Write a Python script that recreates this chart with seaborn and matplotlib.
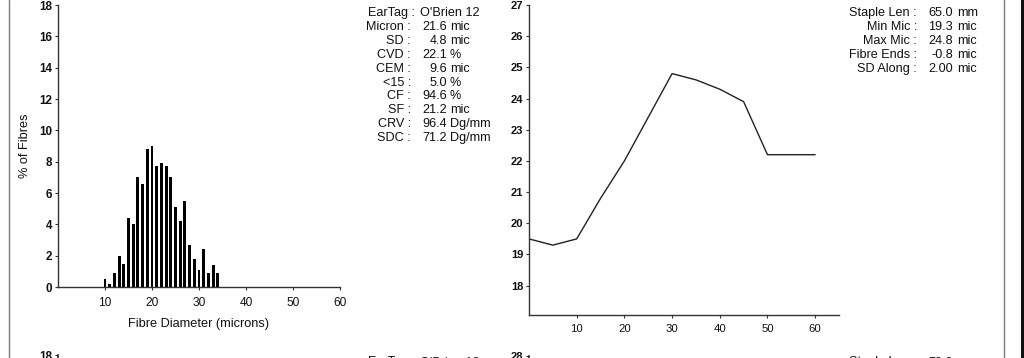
import numpy as np
import pandas as pd
import matplotlib
matplotlib.use("Agg")
import matplotlib.pyplot as plt
from matplotlib.lines import Line2D
from matplotlib.patches import Rectangle
import seaborn as sns

# ---------------- data ----------------
diameters = list(range(10, 35))
pct_fibres = [0.5, 0.2, 0.9, 2.0, 1.5, 4.4, 4.0, 7.0, 6.6, 8.8, 9.0, 7.7, 7.9,
              7.7, 7.0, 5.1, 4.2, 5.5, 2.7, 1.8, 1.1, 2.4, 0.9, 1.4, 0.9]

staple_pos = [0, 5, 10, 15, 20, 25, 30, 35, 40, 45, 50, 55, 60]
micron_along = [19.5, 19.3, 19.5, 20.8, 22.0, 23.4, 24.8, 24.6, 24.3, 23.9, 22.2, 22.2, 22.2]

hist_xticks = [10, 20, 30, 40, 50, 60]
hist_yticks = [0, 2, 4, 6, 8, 10, 12, 14, 16, 18]
prof_xticks = [10, 20, 30, 40, 50, 60]
prof_yticks = [18, 19, 20, 21, 22, 23, 24, 25, 26, 27]
next_prof_yticks = [28]
next_hist_yticks = [18]

ear_tag = "O'Brien 12"
stat_labels = ["Micron :", "SD :", "CVD :", "CEM :", "<15 :", "CF :", "SF :", "CRV :", "SDC :"]
stat_values = ["21.6", "4.8", "22.1", "9.6", "5.0", "94.6", "21.2", "96.4", "71.2"]
stat_units = ["mic", "mic", "%", "mic", "%", "%", "mic", "Dg/mm", "Dg/mm"]

len_labels = ["Staple Len :", "Min Mic :", "Max Mic :", "Fibre Ends :", "SD Along :"]
len_values = ["65.0", "19.3", "24.8", "-0.8", "2.00"]
len_units = ["mm", "mic", "mic", "mic", "mic"]

next_ear_tag = "O'Brien 13"
next_staple = "70.0"

# ---------------- style ----------------
sns.set_theme(style="ticks")
plt.rcParams['font.family'] = ['Liberation Sans', 'DejaVu Sans']
plt.rcParams['axes.edgecolor'] = '#333333'
plt.rcParams['xtick.color'] = '#333333'
plt.rcParams['ytick.color'] = '#333333'
plt.rcParams['xtick.labelcolor'] = '#111111'
plt.rcParams['ytick.labelcolor'] = '#111111'

W, H = 1024, 358
fig = plt.figure(figsize=(W / 100, H / 100), dpi=100)
fig.patch.set_facecolor('white')


def fx(px):
    return px / W


def fy(py):
    return 1 - py / H


TXT = '#111111'


def bold_yticks(ax):
    for lab in ax.get_yticklabels():
        lab.set_fontweight('bold')


# ---------------- histogram ----------------
axh = fig.add_axes([fx(58), fy(287), 282 / W, 282 / H])
df_h = pd.DataFrame({"diam": diameters, "pct": pct_fibres})
sns.barplot(data=df_h, x="diam", y="pct", native_scale=True, color="black",
            saturation=1, width=0.6, errorbar=None, linewidth=0, ax=axh)
axh.set_xlim(0, 60)
axh.set_ylim(0, 18)
axh.set_xticks(hist_xticks)
axh.set_yticks(hist_yticks)
axh.tick_params(axis='x', labelsize=8.6, length=2.5, width=0.8, pad=4.5)
axh.tick_params(axis='y', labelsize=8.4, length=2.5, width=0.8, pad=1.5)
bold_yticks(axh)
axh.set_xlabel("Fibre Diameter (microns)", fontsize=9.2, color=TXT)
axh.set_ylabel("% of Fibres", fontsize=9.2, color=TXT)
axh.xaxis.set_label_coords(0.5, -(318 - 287) / 282)
axh.yaxis.set_label_coords(-(58 - 31) / 282, 0.5)
sns.despine(ax=axh)
for s in axh.spines.values():
    s.set_linewidth(1.0)

# ---------------- profile ----------------
axp = fig.add_axes([fx(529), fy(315), 310 / W, 310 / H])
df_p = pd.DataFrame({"pos": staple_pos, "mic": micron_along})
sns.lineplot(data=df_p, x="pos", y="mic", color="#222222", linewidth=1.0, ax=axp)
axp.set_xlim(0, 65)
axp.set_ylim(17.06, 27)
axp.set_xticks(prof_xticks)
axp.set_yticks(prof_yticks)
axp.tick_params(axis='x', labelsize=8.2, length=2.5, width=0.8, pad=4)
axp.tick_params(axis='y', labelsize=8.0, length=2.5, width=0.8, pad=1.5)
bold_yticks(axp)
axp.set_xlabel("")
axp.set_ylabel("")
sns.despine(ax=axp)
for s in axp.spines.values():
    s.set_linewidth(1.0)

# ---------------- stats blocks ----------------
FS = 9.1
y0, dy = 13, 13.9
fig.text(fx(415), fy(y0), "EarTag :", ha='right', va='center', fontsize=FS, color=TXT)
fig.text(fx(420), fy(y0), ear_tag, ha='left', va='center', fontsize=FS, color=TXT)
for i, (lab, val, unit) in enumerate(zip(stat_labels, stat_values, stat_units)):
    yy = fy(y0 + dy * (i + 1))
    fig.text(fx(411), yy, lab, ha='right', va='center', fontsize=FS, color=TXT)
    fig.text(fx(447), yy, val, ha='right', va='center', fontsize=FS, color=TXT)
    fig.text(fx(450), yy, unit, ha='left', va='center', fontsize=FS, color=TXT)

for i, (lab, val, unit) in enumerate(zip(len_labels, len_values, len_units)):
    yy = fy(y0 + dy * i)
    fig.text(fx(917), yy, lab, ha='right', va='center', fontsize=FS, color=TXT)
    fig.text(fx(953), yy, val, ha='right', va='center', fontsize=FS, color=TXT)
    fig.text(fx(957), yy, unit, ha='left', va='center', fontsize=FS, color=TXT)

# ---------------- next (cut off) panel row ----------------
axh2 = fig.add_axes([fx(58), fy(355) - 282 / H, 282 / W, 282 / H])
axh2.set_xlim(0, 60)
axh2.set_ylim(0, 18)
axh2.set_xticks([])
axh2.set_yticks(next_hist_yticks)
axh2.tick_params(axis='y', labelsize=8.4, length=2.5, width=0.8, pad=1.5)
bold_yticks(axh2)
sns.despine(ax=axh2, bottom=True)
axh2.patch.set_alpha(0)

axp2 = fig.add_axes([fx(529), fy(356) - 310 / H, 310 / W, 310 / H])
axp2.set_xlim(0, 65)
axp2.set_ylim(18.06, 28)
axp2.set_xticks([])
axp2.set_yticks(next_prof_yticks)
axp2.tick_params(axis='y', labelsize=8.0, length=2.5, width=0.8, pad=1.5)
bold_yticks(axp2)
sns.despine(ax=axp2, bottom=True)
axp2.patch.set_alpha(0)

fig.text(fx(415), fy(356.5), "EarTag :", ha='right', va='top', fontsize=FS, color=TXT)
fig.text(fx(420), fy(356.5), next_ear_tag, ha='left', va='top', fontsize=FS, color=TXT)
fig.text(fx(917), fy(356.5), "Staple Len :", ha='right', va='top', fontsize=FS, color=TXT)
fig.text(fx(953), fy(356.5), next_staple, ha='right', va='top', fontsize=FS, color=TXT)
fig.text(fx(957), fy(356.5), "mm", ha='left', va='top', fontsize=FS, color=TXT)

# ---------------- page borders ----------------
fig.add_artist(Line2D([fx(8.5), fx(8.5)], [0, 1], color='#7a7a7a', linewidth=1.0))
fig.add_artist(Line2D([fx(1003.5), fx(1003.5)], [0, 1], color='#7a7a7a', linewidth=1.0))
fig.add_artist(Rectangle((fx(1021), 0), fx(3), 1, color='#111111', linewidth=0))

fig.savefig("out.png", dpi=100, facecolor='white')
